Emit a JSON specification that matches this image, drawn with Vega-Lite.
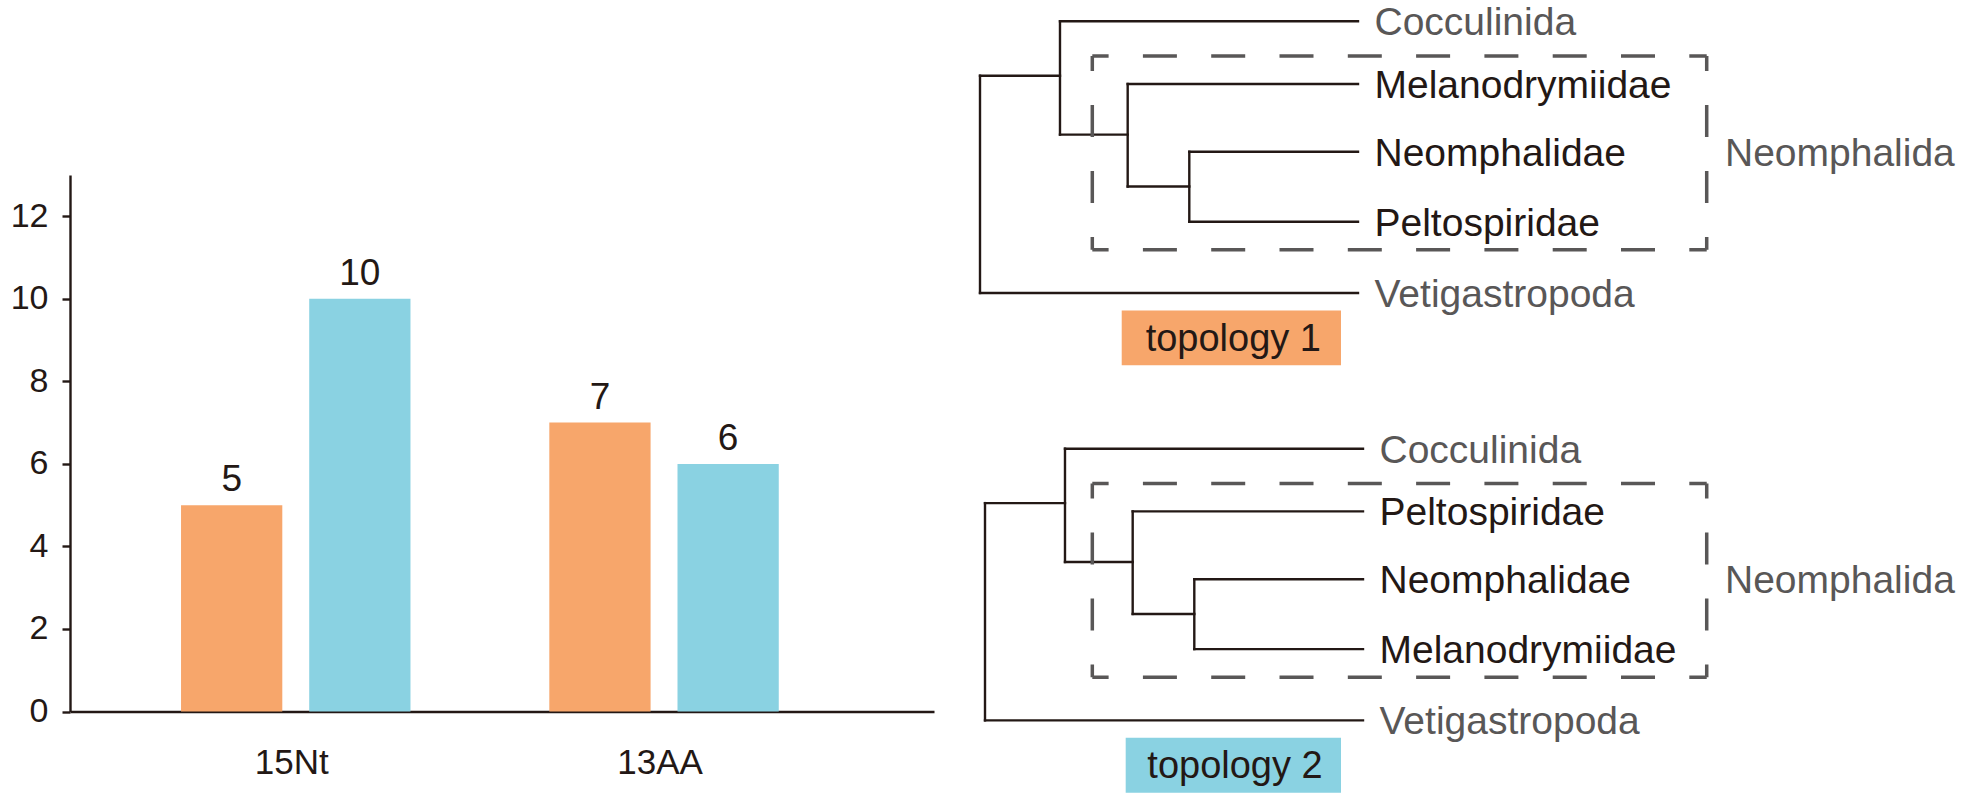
{
  "$schema": "https://vega.github.io/schema/vega-lite/v6.json",
  "padding": {"left": 10, "top": 3, "right": 0, "bottom": 0},
  "background": "white",
  "config": {
    "view": {"stroke": null},
    "font": "Liberation Sans",
    "legend": {"disable": true},
    "axis": {"grid": false}
  },
  "datasets": {
    "counts": [
      {"method": "15Nt", "topology": "topology 1", "count": 5},
      {"method": "15Nt", "topology": "topology 2", "count": 10},
      {"method": "13AA", "topology": "topology 1", "count": 7},
      {"method": "13AA", "topology": "topology 2", "count": 6}
    ],
    "edges": [
      {"depth": 2.116, "depth_end": 10, "order": 0, "order_end": 0},
      {"depth": 3.907, "depth_end": 10, "order": 1, "order_end": 1},
      {"depth": 5.537, "depth_end": 10, "order": 2, "order_end": 2},
      {"depth": 5.537, "depth_end": 10, "order": 3, "order_end": 3},
      {"depth": 0, "depth_end": 10, "order": 4, "order_end": 4},
      {"depth": 0, "depth_end": 2.116, "order": 0.875, "order_end": 0.875},
      {"depth": 2.116, "depth_end": 3.907, "order": 1.75, "order_end": 1.75},
      {"depth": 3.907, "depth_end": 5.537, "order": 2.5, "order_end": 2.5},
      {"depth": 0, "depth_end": 0, "order": 0.875, "order_end": 4},
      {"depth": 2.116, "depth_end": 2.116, "order": 0, "order_end": 1.75},
      {"depth": 3.907, "depth_end": 3.907, "order": 1, "order_end": 2.5},
      {"depth": 5.537, "depth_end": 5.537, "order": 2, "order_end": 3}
    ],
    "taxa": [
      {"topology": "topology 1", "taxon": "Cocculinida", "order": 0, "group": "outgroup"},
      {"topology": "topology 1", "taxon": "Melanodrymiidae", "order": 1, "group": "ingroup"},
      {"topology": "topology 1", "taxon": "Neomphalidae", "order": 2, "group": "ingroup"},
      {"topology": "topology 1", "taxon": "Peltospiridae", "order": 3, "group": "ingroup"},
      {"topology": "topology 1", "taxon": "Vetigastropoda", "order": 4, "group": "outgroup"},
      {"topology": "topology 2", "taxon": "Cocculinida", "order": 0, "group": "outgroup"},
      {"topology": "topology 2", "taxon": "Peltospiridae", "order": 1, "group": "ingroup"},
      {"topology": "topology 2", "taxon": "Neomphalidae", "order": 2, "group": "ingroup"},
      {"topology": "topology 2", "taxon": "Melanodrymiidae", "order": 3, "group": "ingroup"},
      {"topology": "topology 2", "taxon": "Vetigastropoda", "order": 4, "group": "outgroup"}
    ],
    "clades": [{"clade": "Neomphalida"}],
    "topologies": [{"topology": "topology 1"}, {"topology": "topology 2"}]
  },
  "hconcat": [
    {
      "width": 864,
      "height": 708.5,
      "data": {"name": "counts"},
      "encoding": {
        "x": {
          "field": "method", "type": "nominal", "sort": ["15Nt", "13AA"],
          "scale": {"paddingInner": 0.377, "paddingOuter": 0.3615, "align": 0.417},
          "axis": {"title": null, "labelAngle": 0, "ticks": false, "tickSize": 0, "labelPadding": 34, "labelFontSize": 35, "labelColor": "#231815", "domainColor": "#231815", "domainWidth": 2.4, "labelOffset": -4}
        },
        "xOffset": {"field": "topology", "type": "nominal", "sort": ["topology 1", "topology 2"], "scale": {"paddingInner": 0.21, "paddingOuter": 0}},
        "y": {
          "field": "count", "type": "quantitative",
          "scale": {"domain": [0, 13], "nice": false, "rangeMax": 172},
          "axis": {"title": null, "values": [0, 2, 4, 6, 8, 10, 12], "tickSize": 8, "tickWidth": 2.4, "tickColor": "#231815", "domainColor": "#231815", "domainWidth": 2.4, "labelFontSize": 34, "labelPadding": 14, "labelColor": "#231815"}
        }
      },
      "layer": [
        {
          "mark": {"type": "bar"},
          "encoding": {"color": {"field": "topology", "type": "nominal", "scale": {"domain": ["topology 1", "topology 2"], "range": ["#F7A66B", "#8AD2E2"]}, "legend": null}}
        },
        {
          "mark": {"type": "text", "dy": -14, "baseline": "alphabetic", "fontSize": 37, "fill": "#231815"},
          "encoding": {"text": {"field": "count", "type": "quantitative"}}
        }
      ]
    },
    {
      "vconcat": [
        {
          "width": 1020.6,
          "height": 365,
          "layer": [
            {
              "data": {"name": "edges"},
              "mark": {"type": "rule", "stroke": "#231815", "strokeWidth": 2.4, "strokeCap": "square"},
              "encoding": {
                "x": {"field": "depth", "type": "quantitative", "scale": {"domain": [-1, 26], "nice": false, "zero": false}, "axis": null},
                "x2": {"field": "depth_end"},
                "y": {"field": "order", "type": "quantitative", "scale": {"type": "pow", "exponent": 1.0577, "domain": [-0.3118, 5.0371], "reverse": true, "nice": false, "zero": false}, "axis": null},
                "y2": {"field": "order_end"}
              }
            },
            {
              "data": {"name": "clades"},
              "mark": {"type": "rule", "stroke": "#595757", "strokeWidth": 3.5, "strokeDash": [34, 34.3], "strokeDashOffset": 17.7},
              "encoding": {
                "x": {"datum": 2.971, "type": "quantitative", "scale": {"domain": [-1, 26], "nice": false, "zero": false}, "axis": null},
                "x2": {"datum": 19.225},
                "y": {"datum": 0.5715, "type": "quantitative", "scale": {"type": "pow", "exponent": 1.0577, "domain": [-0.3118, 5.0371], "reverse": true, "nice": false, "zero": false}, "axis": null}
              }
            },
            {
              "data": {"name": "clades"},
              "mark": {"type": "rule", "stroke": "#595757", "strokeWidth": 3.5, "strokeDash": [34, 34.3], "strokeDashOffset": 17.7},
              "encoding": {
                "x": {"datum": 2.971, "type": "quantitative", "scale": {"domain": [-1, 26], "nice": false, "zero": false}, "axis": null},
                "x2": {"datum": 19.225},
                "y": {"datum": 3.396, "type": "quantitative", "scale": {"type": "pow", "exponent": 1.0577, "domain": [-0.3118, 5.0371], "reverse": true, "nice": false, "zero": false}, "axis": null}
              }
            },
            {
              "data": {"name": "clades"},
              "mark": {"type": "rule", "stroke": "#595757", "strokeWidth": 3.5, "strokeDash": [32, 34], "strokeDashOffset": 17},
              "encoding": {
                "x": {"datum": 2.971, "type": "quantitative", "scale": {"domain": [-1, 26], "nice": false, "zero": false}, "axis": null},
                "y": {"datum": 0.5715, "type": "quantitative", "scale": {"type": "pow", "exponent": 1.0577, "domain": [-0.3118, 5.0371], "reverse": true, "nice": false, "zero": false}, "axis": null},
                "y2": {"datum": 3.396}
              }
            },
            {
              "data": {"name": "clades"},
              "mark": {"type": "rule", "stroke": "#595757", "strokeWidth": 3.5, "strokeDash": [32, 34], "strokeDashOffset": 17},
              "encoding": {
                "x": {"datum": 19.225, "type": "quantitative", "scale": {"domain": [-1, 26], "nice": false, "zero": false}, "axis": null},
                "y": {"datum": 0.5715, "type": "quantitative", "scale": {"type": "pow", "exponent": 1.0577, "domain": [-0.3118, 5.0371], "reverse": true, "nice": false, "zero": false}, "axis": null},
                "y2": {"datum": 3.396}
              }
            },
            {
              "data": {"name": "taxa"},
              "transform": [{"filter": "datum.topology == 'topology 1'"}],
              "mark": {"type": "text", "align": "left", "baseline": "middle", "dx": 16.5, "dy": 2, "fontSize": 39},
              "encoding": {
                "x": {"datum": 10, "type": "quantitative", "scale": {"domain": [-1, 26], "nice": false, "zero": false}, "axis": null},
                "y": {"field": "order", "type": "quantitative", "scale": {"type": "pow", "exponent": 1.0577, "domain": [-0.3118, 5.0371], "reverse": true, "nice": false, "zero": false}, "axis": null},
                "text": {"field": "taxon"},
                "fill": {"field": "group", "type": "nominal", "scale": {"domain": ["outgroup", "ingroup"], "range": ["#595757", "#231815"]}, "legend": null}
              }
            },
            {
              "data": {"name": "clades"},
              "mark": {"type": "text", "align": "left", "baseline": "middle", "dy": 2, "fontSize": 39, "fill": "#595757"},
              "encoding": {
                "x": {"datum": 19.709, "type": "quantitative", "scale": {"domain": [-1, 26], "nice": false, "zero": false}, "axis": null},
                "y": {"datum": 2, "type": "quantitative", "scale": {"type": "pow", "exponent": 1.0577, "domain": [-0.3118, 5.0371], "reverse": true, "nice": false, "zero": false}, "axis": null},
                "text": {"field": "clade"}
              }
            },
            {
              "data": {"name": "topologies"},
              "transform": [{"filter": "datum.topology == 'topology 1'"}],
              "mark": {"type": "rect"},
              "encoding": {
                "x": {"datum": 3.749, "type": "quantitative", "scale": {"domain": [-1, 26], "nice": false, "zero": false}, "axis": null},
                "x2": {"datum": 9.55},
                "y": {"datum": 4.243, "type": "quantitative", "scale": {"type": "pow", "exponent": 1.0577, "domain": [-0.3118, 5.0371], "reverse": true, "nice": false, "zero": false}, "axis": null},
                "y2": {"datum": 4.999},
                "color": {"field": "topology", "type": "nominal", "scale": {"domain": ["topology 1", "topology 2"], "range": ["#F7A66B", "#8AD2E2"]}, "legend": null}
              }
            },
            {
              "data": {"name": "topologies"},
              "transform": [{"filter": "datum.topology == 'topology 1'"}],
              "mark": {"type": "text", "align": "center", "baseline": "middle", "dy": 2, "fontSize": 38, "fill": "#231815"},
              "encoding": {
                "x": {"datum": 6.702, "type": "quantitative", "scale": {"domain": [-1, 26], "nice": false, "zero": false}, "axis": null},
                "y": {"datum": 4.621, "type": "quantitative", "scale": {"type": "pow", "exponent": 1.0577, "domain": [-0.3118, 5.0371], "reverse": true, "nice": false, "zero": false}, "axis": null},
                "text": {"field": "topology"}
              }
            }
          ]
        },
        {
          "width": 1020.6,
          "height": 365,
          "layer": [
            {
              "data": {"name": "edges"},
              "mark": {"type": "rule", "stroke": "#231815", "strokeWidth": 2.4, "strokeCap": "square"},
              "encoding": {
                "x": {"field": "depth", "type": "quantitative", "scale": {"domain": [-1.1323, 25.8677], "nice": false, "zero": false}, "axis": null},
                "x2": {"field": "depth_end"},
                "y": {"field": "order", "type": "quantitative", "scale": {"type": "pow", "exponent": 1.0577, "domain": [-0.3118, 5.0371], "reverse": true, "nice": false, "zero": false}, "axis": null},
                "y2": {"field": "order_end"}
              }
            },
            {
              "data": {"name": "clades"},
              "mark": {"type": "rule", "stroke": "#595757", "strokeWidth": 3.5, "strokeDash": [34, 34.3], "strokeDashOffset": 17.7},
              "encoding": {
                "x": {"datum": 2.839, "type": "quantitative", "scale": {"domain": [-1.1323, 25.8677], "nice": false, "zero": false}, "axis": null},
                "x2": {"datum": 19.093},
                "y": {"datum": 0.5715, "type": "quantitative", "scale": {"type": "pow", "exponent": 1.0577, "domain": [-0.3118, 5.0371], "reverse": true, "nice": false, "zero": false}, "axis": null}
              }
            },
            {
              "data": {"name": "clades"},
              "mark": {"type": "rule", "stroke": "#595757", "strokeWidth": 3.5, "strokeDash": [34, 34.3], "strokeDashOffset": 17.7},
              "encoding": {
                "x": {"datum": 2.839, "type": "quantitative", "scale": {"domain": [-1.1323, 25.8677], "nice": false, "zero": false}, "axis": null},
                "x2": {"datum": 19.093},
                "y": {"datum": 3.396, "type": "quantitative", "scale": {"type": "pow", "exponent": 1.0577, "domain": [-0.3118, 5.0371], "reverse": true, "nice": false, "zero": false}, "axis": null}
              }
            },
            {
              "data": {"name": "clades"},
              "mark": {"type": "rule", "stroke": "#595757", "strokeWidth": 3.5, "strokeDash": [32, 34], "strokeDashOffset": 17},
              "encoding": {
                "x": {"datum": 2.839, "type": "quantitative", "scale": {"domain": [-1.1323, 25.8677], "nice": false, "zero": false}, "axis": null},
                "y": {"datum": 0.5715, "type": "quantitative", "scale": {"type": "pow", "exponent": 1.0577, "domain": [-0.3118, 5.0371], "reverse": true, "nice": false, "zero": false}, "axis": null},
                "y2": {"datum": 3.396}
              }
            },
            {
              "data": {"name": "clades"},
              "mark": {"type": "rule", "stroke": "#595757", "strokeWidth": 3.5, "strokeDash": [32, 34], "strokeDashOffset": 17},
              "encoding": {
                "x": {"datum": 19.093, "type": "quantitative", "scale": {"domain": [-1.1323, 25.8677], "nice": false, "zero": false}, "axis": null},
                "y": {"datum": 0.5715, "type": "quantitative", "scale": {"type": "pow", "exponent": 1.0577, "domain": [-0.3118, 5.0371], "reverse": true, "nice": false, "zero": false}, "axis": null},
                "y2": {"datum": 3.396}
              }
            },
            {
              "data": {"name": "taxa"},
              "transform": [{"filter": "datum.topology == 'topology 2'"}],
              "mark": {"type": "text", "align": "left", "baseline": "middle", "dx": 16.5, "dy": 2, "fontSize": 39},
              "encoding": {
                "x": {"datum": 10, "type": "quantitative", "scale": {"domain": [-1.1323, 25.8677], "nice": false, "zero": false}, "axis": null},
                "y": {"field": "order", "type": "quantitative", "scale": {"type": "pow", "exponent": 1.0577, "domain": [-0.3118, 5.0371], "reverse": true, "nice": false, "zero": false}, "axis": null},
                "text": {"field": "taxon"},
                "fill": {"field": "group", "type": "nominal", "scale": {"domain": ["outgroup", "ingroup"], "range": ["#595757", "#231815"]}, "legend": null}
              }
            },
            {
              "data": {"name": "clades"},
              "mark": {"type": "text", "align": "left", "baseline": "middle", "dy": 2, "fontSize": 39, "fill": "#595757"},
              "encoding": {
                "x": {"datum": 19.577, "type": "quantitative", "scale": {"domain": [-1.1323, 25.8677], "nice": false, "zero": false}, "axis": null},
                "y": {"datum": 2, "type": "quantitative", "scale": {"type": "pow", "exponent": 1.0577, "domain": [-0.3118, 5.0371], "reverse": true, "nice": false, "zero": false}, "axis": null},
                "text": {"field": "clade"}
              }
            },
            {
              "data": {"name": "topologies"},
              "transform": [{"filter": "datum.topology == 'topology 2'"}],
              "mark": {"type": "rect"},
              "encoding": {
                "x": {"datum": 3.722, "type": "quantitative", "scale": {"domain": [-1.1323, 25.8677], "nice": false, "zero": false}, "axis": null},
                "x2": {"datum": 9.418},
                "y": {"datum": 4.243, "type": "quantitative", "scale": {"type": "pow", "exponent": 1.0577, "domain": [-0.3118, 5.0371], "reverse": true, "nice": false, "zero": false}, "axis": null},
                "y2": {"datum": 4.999},
                "color": {"field": "topology", "type": "nominal", "scale": {"domain": ["topology 1", "topology 2"], "range": ["#F7A66B", "#8AD2E2"]}, "legend": null}
              }
            },
            {
              "data": {"name": "topologies"},
              "transform": [{"filter": "datum.topology == 'topology 2'"}],
              "mark": {"type": "text", "align": "center", "baseline": "middle", "dy": 2, "fontSize": 38, "fill": "#231815"},
              "encoding": {
                "x": {"datum": 6.614, "type": "quantitative", "scale": {"domain": [-1.1323, 25.8677], "nice": false, "zero": false}, "axis": null},
                "y": {"datum": 4.621, "type": "quantitative", "scale": {"type": "pow", "exponent": 1.0577, "domain": [-0.3118, 5.0371], "reverse": true, "nice": false, "zero": false}, "axis": null},
                "text": {"field": "topology"}
              }
            }
          ]
        }
      ],
      "spacing": 62.4,
      "bounds": "flush"
    }
  ],
  "spacing": 8.2,
  "bounds": "flush"
}
